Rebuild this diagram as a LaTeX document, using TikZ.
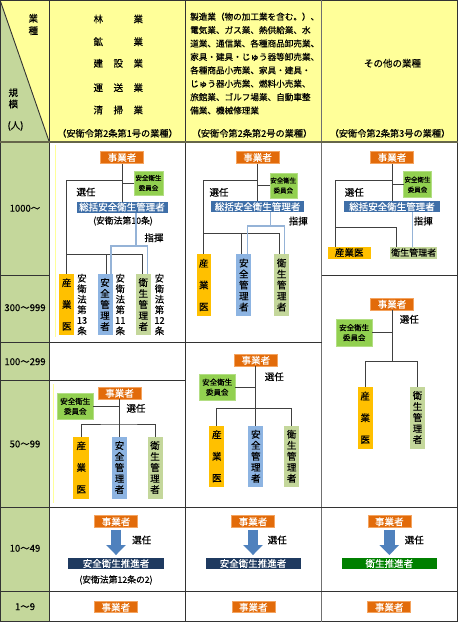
\documentclass[tikz,border=0pt]{standalone}
\usepackage{fontspec}
\setmainfont{Noto Sans CJK JP}[FakeBold=0.35]
\usetikzlibrary{calc,arrows.meta}
\definecolor{cOr}{HTML}{E26B0A}
\definecolor{cOrL}{HTML}{F4A460}
\definecolor{cBl}{HTML}{3F6FA8}
\definecolor{cNavy}{HTML}{1F3A60}
\definecolor{cDg}{HTML}{008000}
\definecolor{cGr}{HTML}{92D050}
\definecolor{cYe}{HTML}{FFC000}
\definecolor{cLb}{HTML}{8DB4E2}
\definecolor{cLg}{HTML}{C4D79B}
\definecolor{cHead}{HTML}{FFFF99}
\definecolor{cLeft}{HTML}{C4D79B}
\definecolor{cLn}{HTML}{404040}
\definecolor{cBline}{HTML}{95B3D7}
\definecolor{cArr}{HTML}{4F81BD}
\definecolor{cGrid}{HTML}{333333}
\definecolor{cHline}{HTML}{66664A}
\newcommand\fzbox{\fontsize{9.5}{11}\selectfont}
\newcommand\fzcomA{\fontsize{6.5}{10}\selectfont}
\newcommand\fzcomB{\fontsize{7.5}{10}\selectfont}
\newcommand\fzdoc{\fontsize{9.5}{21.7}\selectfont}
\newcommand\fzlaw{\fontsize{9.3}{10.5}\selectfont}
\newcommand\fzhead{\fontsize{8.6}{13.4}\selectfont}
\newcommand\fzsmall{\fontsize{8.8}{10}\selectfont}
\newcommand\fzpar{\fontsize{9.2}{10}\selectfont}
\tikzset{
  box/.style={inner sep=0pt, outer sep=0pt, font=\fzbox, align=center},
  boss/.style={box, fill=cOr, text=white, draw=cOrL, line width=0.5pt, minimum width=43pt, minimum height=12pt},
  sou/.style={box, fill=cBl, text=white, minimum height=11pt},
  pro/.style={box, fill=cNavy, text=white, minimum height=11.5pt},
  com/.style={box, fill=cGr, draw=cGr!70!white, line width=0.5pt},
  vbox/.style={box, minimum width=15pt, minimum height=61pt},
  doc/.style={vbox, fill=cYe, font=\fzdoc},
  safe/.style={vbox, fill=cLb},
  hyg/.style={vbox, fill=cLg},
  law/.style={box, font=\fzlaw},
  lab/.style={inner sep=0pt, outer sep=0pt, font=\fzbox, align=center},
  ln/.style={draw=cLn, line width=0.9pt},
  bl/.style={draw=cBline, line width=1.3pt},
  grid/.style={draw=cGrid, line width=0.9pt},
  barrow/.style={draw=cArr, line width=10.5pt, shorten <=2pt, shorten >=2.7pt, -{Triangle[width=19pt,length=10pt]}},
}
\begin{document}
\begin{tikzpicture}[x=1pt,y=-1pt]
\useasboundingbox (0,0) rectangle (458,622);
% fills
\fill[cHead] (0,0) rectangle (458,142);
\fill[cLeft] (0,0) -- (49.3,142) -- (0,142) -- cycle;
\fill[cLeft] (0,142) rectangle (49.3,622);
\draw[cHead, line width=0.8pt] (55,145) -- (55,337);
\draw[cHead, line width=0.8pt] (53.3,384) -- (53.3,503);
% grid
\draw[grid] (0,0) -- (49.3,142);
\draw[grid] (0.5,0.5) rectangle (457.5,621.5);
\draw[grid] (49.3,0) -- (49.3,622);
\draw[grid] (185,0) -- (185,622);
\draw[draw=cGrid!70!white, line width=1.2pt] (321.5,0) -- (321.5,622);
\draw[grid] (0,275) -- (49.3,275) (321.5,275) -- (458,275);
\draw[grid] (0,342.5) -- (321.5,342.5);
\draw[grid] (0,380) -- (185,380);
\draw[grid] (0,507) -- (458,507);
\draw[grid] (0,591) -- (458,591);
\draw[draw=cHline, line width=2.5pt] (0,142) -- (458,142);

% header texts
\node[lab] (hg1) at (33.3,18.3) {業};
\node[lab] (hg2) at (33.3,30.7) {種};
\node[lab] (hk1) at (13.3,92.7) {規};
\node[lab] (hk2) at (13.3,104) {模};
\node[lab] (hk3) at (15.5,126) {(人)};
\node[lab] (h1a) at (118.3,19) {\makebox[49.5pt][s]{林\hfill 業}};
\node[lab] (h1b) at (118.3,41.7) {\makebox[49.5pt][s]{鉱\hfill 業}};
\node[lab] (h1c) at (118.3,63.3) {\makebox[49.5pt][s]{建\hfill 設\hfill 業}};
\node[lab] (h1d) at (118.3,87.7) {\makebox[49.5pt][s]{運\hfill 送\hfill 業}};
\node[lab] (h1e) at (118.3,110) {\makebox[49.5pt][s]{清\hfill 掃\hfill 業}};
\node[lab, font=\fzpar] (h1f) at (117.5,133.3) {（安衛令第2条第1号の業種）};
\node[anchor=north west, inner sep=0pt, align=left, font=\fzhead] (h2a) at (190,12.4)
 {製造業（物の加工業を含む。）、\\電気業、ガス業、熱供給業、水\\道業、通信業、各種商品卸売業、\\家具・建具・じゅう器等卸売業、\\各種商品小売業、家具・建具・\\じゅう器小売業、燃料小売業、\\旅館業、ゴルフ場業、自動車整\\備業、機械修理業};
\node[lab, font=\fzpar] (h2f) at (252,133.3) {（安衛令第2条第2号の業種）};
\node[lab] (h3a) at (392.5,63.3) {その他の業種};
\node[lab, font=\fzpar] (h3f) at (390,133.3) {（安衛令第2条第3号の業種）};

% left labels
\node[lab] (r1) at (25,208.3) {1000〜};
\node[lab] (r2) at (25,307.7) {300〜999};
\node[lab] (r3) at (25,361.7) {100〜299};
\node[lab] (r4) at (25,444) {50〜99};
\node[lab] (r5) at (25,548.3) {10〜49};
\node[lab] (r6) at (25,606.7) {1〜9};

% ===== column 1, 1000~ =====
\node[boss] (a1boss) at (122,157.5) {事業者};
\node[com, font=\fzcomA, minimum width=29pt, minimum height=24pt] (a1com) at (148.5,183) {安全衛生\\委員会};
\node[sou, minimum width=91pt] (a1sou) at (122,207) {総括安全衛生管理者};
\node[lab, font=\fzsmall] (a1law) at (123,221) {(安衛法第10条)};
\node[lab] (a1sn) at (86,192) {選任};
\node[lab] (a1sk) at (154,237.7) {指揮};
\node[doc] (a1doc) at (66.7,304.5) {産\\業\\医};
\node[safe] (a1safe) at (105,304.5) {安\\全\\管\\理\\者};
\node[hyg] (a1hyg) at (143.3,304.5) {衛\\生\\管\\理\\者};
\node[law] (a1l13) at (82,304.5) {安\\衛\\法\\第\\13\\条};
\node[law] (a1l11) at (120.3,304.5) {安\\衛\\法\\第\\11\\条};
\node[law] (a1l12) at (159.5,304.5) {安\\衛\\法\\第\\12\\条};
\draw[ln] (a1boss.south) -- (a1sou.north);
\draw[ln] (a1com.west) -- (a1com.west -| a1boss.south);
\coordinate (a1s) at (122,180);
\draw[ln] (a1s) -| (a1doc.north);
\coordinate (a1h) at (66.7,254.3);
\coordinate (a1sd) at ($(a1safe.north)+(1,0)$);
\coordinate (a1hd) at ($(a1hyg.north)+(-0.6,0)$);
\draw[ln] (a1h) -| (a1hd);
\draw[ln] (a1sd) -- (a1sd |- a1h);
\coordinate (a1k) at (136,246);
\coordinate (a1sb) at ($(a1safe.north)+(6,0)$);
\coordinate (a1hb) at ($(a1hyg.north)+(4.4,0)$);
\draw[bl] (a1k |- a1sou.south) -- (a1k);
\draw[bl] (a1sb) |- (a1k) -| (a1hb);

% ===== column 2, 1000~ =====
\node[boss] (b1boss) at (257.6,157.5) {事業者};
\node[com, font=\fzcomA, minimum width=27pt, minimum height=25pt] (b1com) at (283.3,185.5) {安全衛生\\委員会};
\node[sou, minimum width=93pt] (b1sou) at (257.6,206.7) {総括安全衛生管理者};
\node[lab] (b1sn) at (219,192.3) {選任};
\node[lab] (b1sk) at (298.3,221) {指揮};
\node[doc, minimum width=14pt, minimum height=62pt] (b1doc) at (203.8,285) {産\\業\\医};
\node[safe, minimum height=62pt] (b1safe) at (243.8,285) {安\\全\\管\\理\\者};
\node[hyg, minimum height=62pt] (b1hyg) at (281.7,285) {衛\\生\\管\\理\\者};
\draw[ln] (b1boss.south) -- (b1sou.north);
\draw[ln] (b1com.west) -- (b1com.west -| b1boss.south);
\coordinate (b1s) at (257.6,180);
\draw[ln] (b1s) -| (b1doc.north);
\coordinate (b1h) at (203.8,233.3);
\coordinate (b1sd) at ($(b1safe.north)+(-2,0)$);
\coordinate (b1hd) at ($(b1hyg.north)+(-2.4,0)$);
\draw[ln] (b1h) -| (b1hd);
\draw[ln] (b1sd) -- (b1sd |- b1h);
\coordinate (b1k) at (270.7,226);
\coordinate (b1sb) at ($(b1safe.north)+(3.9,0)$);
\coordinate (b1hb) at ($(b1hyg.north)+(2.6,0)$);
\draw[bl] (b1k |- b1sou.south) -- (b1k);
\draw[bl] (b1sb) |- (b1k) -| (b1hb);

% ===== column 3, 1000~ =====
\node[boss] (c1boss) at (392,157.5) {事業者};
\node[com, font=\fzcomA, minimum width=28pt, minimum height=26pt] (c1com) at (417.5,184.7) {安全衛生\\委員会};
\node[sou, minimum width=96pt] (c1sou) at (392,206.8) {総括安全衛生管理者};
\node[lab] (c1sn) at (354.3,192.3) {選任};
\node[lab] (c1sk) at (423.3,221) {指揮};
\node[box, fill=cYe, minimum width=43pt, minimum height=12pt] (c1doc) at (349.2,252.5) {産業医};
\node[box, fill=cLg, minimum width=47pt, minimum height=12pt, font=\fontsize{9}{10}\selectfont] (c1hyg) at (413.7,252.5) {衛生管理者};
\draw[ln] (c1boss.south) -- (c1sou.north);
\draw[ln] (c1com.west) -- (c1com.west -| c1boss.south);
\coordinate (c1s) at (392,180);
\coordinate (c1dd) at ($(c1doc.north west)+(7.3,0)$);
\draw[ln] (c1s) -| (c1dd);
\coordinate (c1h) at (335,227.3);
\coordinate (c1hd) at ($(c1hyg.north west)+(6.7,0)$);
\draw[ln] (c1h) -| (c1hd);
\coordinate (c1hb) at ($(c1hyg.north)+(-1.4,0)$);
\draw[bl] (c1hb |- c1sou.south) -- (c1hb);

% ===== column 3, 50~999 =====
\node[boss] (c2boss) at (392,304.2) {事業者};
\node[com, font=\fzcomB, minimum width=36pt, minimum height=27pt] (c2com) at (354.2,332.7) {安全衛生\\委員会};
\node[lab] (c2sn) at (409.3,319.3) {選任};
\node[doc, minimum height=62pt] (c2doc) at (365.2,417.8) {産\\業\\医};
\node[hyg, minimum height=62pt] (c2hyg) at (417.5,417.5) {衛\\生\\管\\理\\者};
\coordinate (c2j) at (392,361.7);
\draw[ln] (c2boss.south) -- (c2j);
\draw[ln] (c2com.east) -- (c2com.east -| c2boss.south);
\draw[ln] (c2doc.north) |- (c2j) -| (c2hyg.north);

% ===== column 2, 50~299 =====
\node[boss] (b2boss) at (255.8,360.2) {事業者};
\node[com, font=\fzcomB, minimum width=36pt, minimum height=26pt] (b2com) at (217.2,387.2) {安全衛生\\委員会};
\node[lab] (b2sn) at (274.3,376.7) {選任};
\node[doc, minimum height=61pt] (b2doc) at (216.8,456.3) {産\\業\\医};
\node[safe, minimum height=61pt] (b2safe) at (255.8,456.3) {安\\全\\管\\理\\者};
\node[hyg, minimum height=61pt] (b2hyg) at (291.7,456.3) {衛\\生\\管\\理\\者};
\coordinate (b2j) at (255.8,408.3);
\draw[ln] (b2boss.south) -- (b2safe.north);
\draw[ln] (b2com.east) -- (b2com.east -| b2boss.south);
\draw[ln] (b2doc.north) |- (b2j) -| (b2hyg.north);

% ===== column 1, 50~99 =====
\node[boss] (a2boss) at (119.5,393.2) {事業者};
\node[com, font=\fzcomB, minimum width=36pt, minimum height=26pt] (a2com) at (75.3,406.3) {安全衛生\\委員会};
\node[lab] (a2sn) at (136,408.3) {選任};
\node[doc, minimum width=16pt, minimum height=62pt] (a2doc) at (81.3,467.5) {産\\業\\医};
\node[safe, minimum height=62pt] (a2safe) at (119.5,467.5) {安\\全\\管\\理\\者};
\node[hyg, minimum height=62pt] (a2hyg) at (155,467.5) {衛\\生\\管\\理\\者};
\coordinate (a2j) at (119.5,424);
\draw[ln] (a2boss.south) -- (a2safe.north);
\draw[ln] (a2com.east) -- (a2com.east -| a2boss.south);
\draw[ln] (a2doc.north) |- (a2j) -| (a2hyg.north);

% ===== 10~49 =====
\node[boss] (a3boss) at (116,521.7) {事業者};
\node[pro, minimum width=96pt] (a3pro) at (116,563.5) {安全衛生推進者};
\node[lab, font=\fzsmall] (a3law) at (116,580) {(安衛法第12条の2)};
\node[lab] (a3sn) at (141.7,540) {選任};
\draw[barrow] (a3boss) -- (a3pro);
\node[boss] (b3boss) at (253,521.7) {事業者};
\node[pro, minimum width=95pt] (b3pro) at (253,563.5) {安全衛生推進者};
\node[lab] (b3sn) at (277.3,540) {選任};
\draw[barrow] (b3boss) -- (b3pro);
\node[boss] (c3boss) at (389.3,521.7) {事業者};
\node[pro, fill=cDg, minimum width=95pt] (c3pro) at (389.3,563.5) {衛生推進者};
\node[lab] (c3sn) at (414.3,540) {選任};
\draw[barrow] (c3boss) -- (c3pro);

% ===== 1~9 =====
\node[boss, minimum height=11pt] (a4boss) at (115.8,607.2) {事業者};
\node[boss, minimum height=11pt] (b4boss) at (253.3,607.2) {事業者};
\node[boss, minimum height=11pt] (c4boss) at (389.2,607.2) {事業者};
\end{tikzpicture}
\end{document}
